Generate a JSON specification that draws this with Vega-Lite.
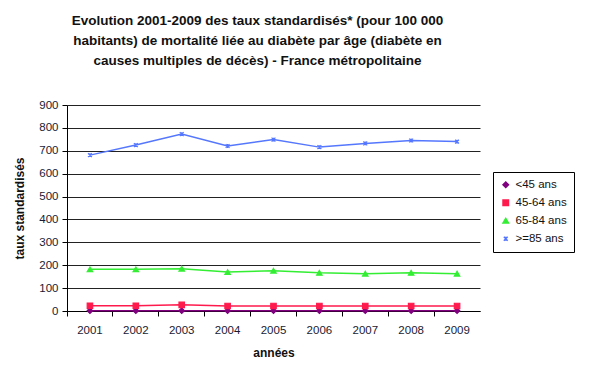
{
  "$schema": "https://vega.github.io/schema/vega-lite/v6.json",
  "width": 413,
  "height": 206,
  "autosize": {"type": "none"},
  "padding": {"left": 67, "top": 105, "right": 120, "bottom": 63},
  "background": "white",
  "title": {
    "text": ["Evolution 2001-2009 des taux standardisés* (pour 100 000", "habitants) de mortalité liée au diabète par âge (diabète en", "causes multiples de décès) - France métropolitaine"],
    "font": "Liberation Sans",
    "fontSize": 13.5,
    "fontWeight": "bold",
    "color": "#111111",
    "lineHeight": 20,
    "anchor": "middle",
    "dx": -16,
    "offset": 32
  },
  "config": {
    "view": {"stroke": null},
    "axis": {"labelFont": "Liberation Sans", "titleFont": "Liberation Sans", "labelColor": "#1a1a33", "titleColor": "#111111"}
  },
  "data": {
    "values": [
      {"annee": "2001", "age": "<45 ans", "taux": 1.5},
      {"annee": "2002", "age": "<45 ans", "taux": 1.5},
      {"annee": "2003", "age": "<45 ans", "taux": 1.5},
      {"annee": "2004", "age": "<45 ans", "taux": 1.5},
      {"annee": "2005", "age": "<45 ans", "taux": 1.5},
      {"annee": "2006", "age": "<45 ans", "taux": 1.5},
      {"annee": "2007", "age": "<45 ans", "taux": 1.5},
      {"annee": "2008", "age": "<45 ans", "taux": 1.5},
      {"annee": "2009", "age": "<45 ans", "taux": 1.5},
      {"annee": "2001", "age": "45-64 ans", "taux": 23},
      {"annee": "2002", "age": "45-64 ans", "taux": 23},
      {"annee": "2003", "age": "45-64 ans", "taux": 27},
      {"annee": "2004", "age": "45-64 ans", "taux": 22},
      {"annee": "2005", "age": "45-64 ans", "taux": 22},
      {"annee": "2006", "age": "45-64 ans", "taux": 22},
      {"annee": "2007", "age": "45-64 ans", "taux": 22},
      {"annee": "2008", "age": "45-64 ans", "taux": 22},
      {"annee": "2009", "age": "45-64 ans", "taux": 22},
      {"annee": "2001", "age": "65-84 ans", "taux": 182},
      {"annee": "2002", "age": "65-84 ans", "taux": 182},
      {"annee": "2003", "age": "65-84 ans", "taux": 185},
      {"annee": "2004", "age": "65-84 ans", "taux": 170},
      {"annee": "2005", "age": "65-84 ans", "taux": 176},
      {"annee": "2006", "age": "65-84 ans", "taux": 167},
      {"annee": "2007", "age": "65-84 ans", "taux": 163},
      {"annee": "2008", "age": "65-84 ans", "taux": 167},
      {"annee": "2009", "age": "65-84 ans", "taux": 163},
      {"annee": "2001", "age": ">=85 ans", "taux": 681},
      {"annee": "2002", "age": ">=85 ans", "taux": 725},
      {"annee": "2003", "age": ">=85 ans", "taux": 773},
      {"annee": "2004", "age": ">=85 ans", "taux": 721},
      {"annee": "2005", "age": ">=85 ans", "taux": 749},
      {"annee": "2006", "age": ">=85 ans", "taux": 716},
      {"annee": "2007", "age": ">=85 ans", "taux": 732},
      {"annee": "2008", "age": ">=85 ans", "taux": 745},
      {"annee": "2009", "age": ">=85 ans", "taux": 740}
    ]
  },
  "encoding": {
    "x": {
      "field": "annee", "type": "ordinal",
      "scale": {"type": "band", "paddingInner": 0, "paddingOuter": 0},
      "axis": {"orient": "bottom", "title": "années", "titleFontSize": 12, "titleFontWeight": "bold", "titlePadding": 12, "labelFontSize": 11.5, "labelAngle": 0, "labelPadding": 8, "bandPosition": 0, "labelOffset": 0, "ticks": true, "tickSize": 5, "tickColor": "black", "domainColor": "black", "domainWidth": 1, "grid": false}
    },
    "y": {
      "field": "taux", "type": "quantitative",
      "scale": {"domain": [0, 900], "nice": false},
      "axis": {"title": "taux standardisés", "titleFontSize": 12, "titleFontWeight": "bold", "titlePadding": 12, "labelFontSize": 11.5, "values": [0,100,200,300,400,500,600,700,800,900], "labelOverlap": false, "tickColor": "black", "tickSize": 5, "domainColor": "black", "gridColor": "#222222", "gridWidth": 1, "labelPadding": 4}
    },
    "color": {
      "field": "age", "type": "nominal",
      "scale": {"domain": ["<45 ans", "45-64 ans", "65-84 ans", ">=85 ans"], "range": ["#800080", "#ff1a4d", "#33ee33", "#5577ff"]},
      "legend": {"title": null, "orient": "none", "legendX": 426, "legendY": 67, "strokeColor": "black", "padding": 7, "labelFont": "Liberation Sans", "labelFontSize": 11.5, "labelColor": "#111111", "symbolSize": 30, "rowPadding": 5, "fillColor": "white"}
    }
  },
  "layer": [
    {
      "mark": {"type": "line", "strokeWidth": 1.5}
    },
    {
      "mark": {"type": "point", "filled": true, "size": 30, "strokeWidth": 1.2, "opacity": 1},
      "encoding": {
        "stroke": {"field": "age", "type": "nominal", "scale": {"domain": ["<45 ans", "45-64 ans", "65-84 ans", ">=85 ans"], "range": ["#800080", "#ff1a4d", "#33ee33", "#5577ff"]}},
        "shape": {
          "field": "age", "type": "nominal",
          "scale": {"domain": ["<45 ans", "45-64 ans", "65-84 ans", ">=85 ans"], "range": ["diamond", "square", "triangle-up", "M-0.7,-0.7L0.7,0.7M-0.7,0.7L0.7,-0.7M0,-0.7L0,0.7"]}
        }
      }
    }
  ]
}
